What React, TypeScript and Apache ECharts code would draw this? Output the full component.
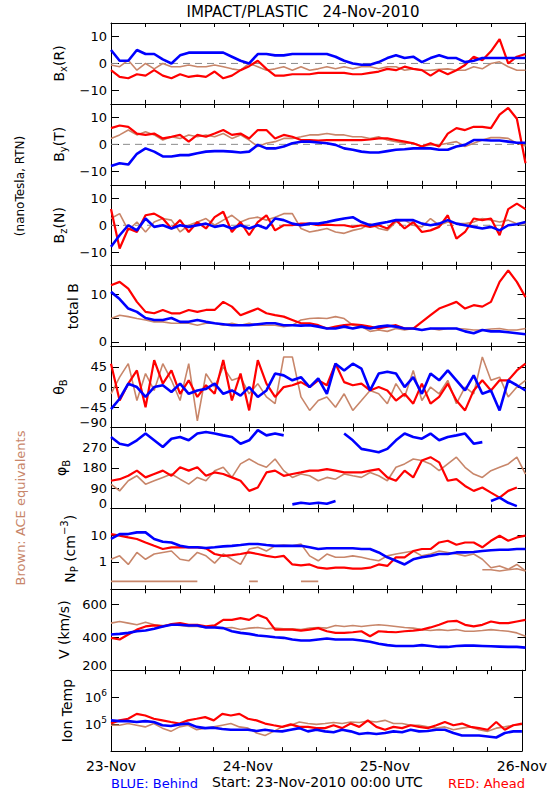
import React, { useEffect, useRef } from 'react';
import * as echarts from 'echarts';

// Time grid: hours after 23-Nov-2010 00:00 UTC (1.5 h samples)
const HOURS = [0, 1.5, 3, 4.5, 6, 7.5, 9, 10.5, 12, 13.5, 15, 16.5, 18, 19.5, 21, 22.5, 24, 25.5, 27, 28.5, 30, 31.5, 33, 34.5, 36, 37.5, 39, 40.5, 42, 43.5, 45, 46.5, 48, 49.5, 51, 52.5, 54, 55.5, 57, 58.5, 60, 61.5, 63, 64.5, 66, 67.5, 69, 70.5, 72];
const DAY_LABELS = ['23-Nov', '24-Nov', '25-Nov', '26-Nov'];

// Bx (R), nT
const BX_BEHIND = [5, 1, 1, 5, 3.5, 3.5, 1.5, 0, 3, 4, 4, 4, 4, 4, 2.5, 1, 0, 3.5, 3.5, 3, 3, 3.5, 3.5, 3.5, 3.5, 3.5, 2.5, 1, 0, -0.5, -0.5, 0.5, 2, 3, 2, 2.5, 0.5, 2, 3, 2, 2, 0.5, 1, 2, 2, 2, 2, 2, 2];
const BX_AHEAD = [-2.5, -5, -5.5, -4, -4.5, -2.5, -4.5, -5.5, -4, -5, -4.5, -5, -3, -5.5, -4.5, -2.5, -1, 1, -2, -4.5, -4.5, -4, -4, -4, -3.5, -3.5, -3.5, -3.5, -4, -4, -3.5, -3, -2, -2.5, -1.2, -2, -2.5, -4.5, -2.5, -4, -2.5, -0.6, 2.5, 1.2, 4.5, 9, 0, 2.5, 3.5];
const BX_ACE = [-0.6, -1.2, 1.2, -2.5, 0, -2, 0, -1.2, -1.2, -0.6, -1.2, -1.2, -0.6, -1.2, -2, -2.5, 0, -1.2, -2.5, -2, -1.2, -2.5, -1.2, -2.5, -2, -1.2, -2, -1.2, -2, -1.2, -1.2, -2, -1.2, -1.2, -2.5, -2, -2.5, -2.5, -2.2, -2, -2.5, -2.5, -1.2, -2, 0, 0.6, -1.2, -2.5, -2.5];

// By (T), nT
const BY_BEHIND = [-8, -7, -7.5, -3.5, -1.5, -2.7, -4.5, -4.5, -4, -4, -3.3, -2.7, -2.5, -2.5, -2.7, -3, -2.7, -0.2, -1.5, -1.5, -0.8, 0.4, 1, 1, 0.7, 0.4, -0.2, -1.5, -2, -2.7, -3, -3, -2.5, -2, -1.8, -1.5, -1.5, -1.5, -2, -2, -0.8, -0.2, 1.6, 1.6, 1.4, 1.4, 1, 0.6, 0.6];
const BY_AHEAD = [6, 7, 6.5, 4, 3.5, 4, 2.2, 2.8, 3.5, 1, 3.5, 2.8, 4, 5.3, 3.5, 4, 2.2, 5.3, 5.3, 2.2, 3.5, 2.8, 1.6, 1.6, 1.4, 1.6, 1.6, 1.6, 1.6, 1.6, 1.8, 2.2, 2.2, 1.6, 1, 0.4, -0.8, 0.4, -0.8, 4, 6, 5.3, 6.5, 6.5, 6, 11, 13.5, 9.5, -7];
const BY_ACE = [2.2, 3.5, 5.3, 3.5, 4.7, 3.5, 1.6, 2.8, 2.2, 3.5, 2.8, 3.5, 2.8, 4, 2.2, 3.5, 1.6, -0.8, 0.4, 1, 2.2, 2.2, 2.8, 3.5, 3.5, 4, 3.5, 3.5, 2.8, 2.8, 2.2, 2.8, 1.6, 1, 0.4, 0.4, -0.8, -0.2, -0.2, 0.4, 1, -0.8, 0.4, 1.6, 2.5, 2.5, 2.2, 0.4, -0.6];

// Bz (N), nT
const BZ_BEHIND = [-8, -3.7, 0, -1.9, 2.5, -0.6, 0, -1.2, 0, -0.6, 0, 0.6, -0.6, 0, -1.2, 0, -1.2, 0, -1.2, 2.5, 1.9, 0.6, 0, 0.6, 0.6, 1.2, 1.9, 2.5, 3, 1.2, 0, 0.6, 1.2, 1.9, 1.9, 1.9, 0.6, 0, 0.6, 1.9, 0.6, 0, -0.6, -1.2, -0.6, -1.9, 0, 0.4, 1.2];
const BZ_AHEAD = [6, -8.6, -1.2, -2.5, 3.7, 4.3, 2.5, -1.2, 1.9, -2.5, 1.2, -1.2, 3, 5, -2.5, 1.2, -3.7, 1.2, 3.7, -1.9, 0, 0, 0.6, 0.6, 0, 0.2, 0, 0, -0.6, 0, -0.6, 0, -1.2, 1.9, -1.2, 1.2, -2.5, -1.9, -0.6, 3.7, -5, -2.5, 2.5, 1.9, 2.5, -3.7, 6, 8, 6];
const BZ_ACE = [2.5, 4.3, -1.9, 1.2, -2.5, 1.2, 2.5, 1.9, -2.5, 0, 1.2, 2.5, 0, 1.9, 3.7, 1.2, 2.5, 3, 1.9, 3, 4.3, 4.3, -1.2, -2.5, -1.9, -1.2, -2.5, -3, -1.9, -1.2, 0.6, -1.2, -1.9, 1.2, 1.9, 0, -0.6, 2.5, 0, 1.2, 0.6, 0.6, 1.2, 2.5, 1.9, 1.2, 1.9, 0.6, 0.6];

// total B, nT
const BT_BEHIND = [10.5, 9, 7, 6.3, 5, 4.6, 4.6, 5, 4.2, 4.2, 4.6, 4.2, 3.9, 3.7, 3.5, 3.5, 3.5, 3.7, 3.9, 3.9, 3.5, 3.5, 3.4, 3.5, 3.2, 2.8, 2.8, 3.2, 2.8, 3.2, 2.8, 3.2, 3.4, 3.2, 2.8, 2.8, 2.5, 2.8, 2.8, 2.8, 2.8, 2.2, 1.8, 2.5, 2.2, 2.2, 2, 1.8, 1.6];
const BT_AHEAD = [11.9, 12.6, 11.2, 8.4, 6.3, 6, 6.7, 6, 6, 6.7, 6.3, 6.7, 6.7, 8.4, 7.4, 5.6, 6.3, 7, 6, 5.6, 5.3, 4.6, 3.9, 3.9, 3.5, 2.8, 3.2, 3.5, 3.7, 3.5, 3.2, 2.8, 3.2, 3.5, 2.8, 2.8, 4.2, 5.6, 7, 7.7, 8.4, 7, 7.7, 7.4, 8.4, 12.6, 15, 12.6, 9.4];
const BT_ACE = [4.9, 5.6, 5.3, 4.9, 4.6, 4.2, 4.2, 3.9, 3.9, 3.9, 3.5, 3.9, 3.9, 3.5, 3.9, 3.5, 3.9, 3.5, 3.5, 3.5, 3.2, 3.5, 4.6, 4.9, 5, 4.9, 5.3, 4.9, 3.5, 3.2, 2.2, 2.5, 2.2, 2.8, 2.5, 2.8, 2.5, 2.8, 2.5, 2.8, 2.8, 2.7, 2.5, 2.5, 2.7, 2.8, 2.5, 2.5, 2.8];

// theta_B, degrees
const TH_BEHIND = [-49, -26, 7.5, 0, -22, 0, 4, -11, 7.5, -15, -7.5, -4, 7.5, -15, -7.5, -19, 0, -22, -7.5, 30, 26, 15, 22, 0, 19, -15, 52, 37, 52, 41, -7.5, 30, 34, 30, 0, 22, -15, 30, 15, 37, 15, -7.5, 26, -15, -7.5, -52, 15, 4, -7.5];
const TH_AHEAD = [52, -30, 7.5, 37, -45, 60, 7.5, 37, -15, 15, -22, 4, -15, 60, -30, 30, -52, 60, 7.5, -22, 0, 4, 11, 0, 15, 4, 52, 11, 4, 7.5, -7.5, 0, -7.5, -30, -15, -37, 7.5, -37, -22, 7.5, -30, -52, -7.5, 15, -7.5, 15, 15, 37, 52];
const TH_ACE = [-15, 22, 52, -30, 30, -7.5, 52, 15, -30, 52, -75, 30, 0, 45, 15, 22, -15, 7.5, -22, -37, 67, 67, -22, -52, -30, -22, -45, -15, -52, -30, -7.5, -15, -37, 7.5, -22, 37, -30, 0, -15, 15, -37, 0, -15, 67, 15, 22, -22, 0, 15];

// phi_B, degrees
const PH_BEHIND = [318, 288, 280, 303, 333, 303, 273, 310, 318, 303, 333, 340, 333, 325, 318, 288, 303, 348, 325, 333, 325, 18, 25, 21, 25, 21, 33, 333, 303, 265, 258, 250, 265, 303, 333, 318, 310, 333, 303, 318, 325, 333, 288, 295, 33, 48, 25, 10, 348];
const PH_AHEAD = [123, 130, 145, 168, 138, 153, 168, 145, 183, 168, 183, 145, 160, 153, 138, 123, 78, 93, 160, 168, 145, 153, 160, 168, 168, 175, 168, 160, 160, 160, 168, 175, 138, 123, 168, 138, 213, 228, 205, 123, 130, 100, 78, 93, 70, 48, 78, 93, 295];
const PH_ACE = [108, 78, 123, 145, 108, 123, 138, 153, 130, 108, 138, 123, 168, 183, 138, 198, 220, 198, 183, 220, 168, 138, 153, 145, 123, 138, 130, 153, 145, 138, 160, 145, 123, 183, 198, 220, 213, 198, 168, 198, 228, 183, 153, 138, 168, 183, 198, 228, 153];

// Proton density, cm^-3
const NP_BEHIND = [7.5, 11.5, 11.5, 13.4, 13.4, 7.5, 5.9, 5.5, 4.1, 3.6, 3.6, 3.4, 3.6, 3.9, 4.1, 4.4, 4.8, 4.8, 4.4, 4.1, 4.1, 4.1, 4.1, 3.6, 3.1, 3.3, 3.3, 3.3, 3.3, 3.1, 3.1, 2.3, 1.5, 1.1, 0.8, 1.26, 1.5, 1.7, 2.0, 2.0, 2.3, 2.3, 2.4, 2.6, 2.8, 2.9, 2.9, 3.1, 3.1];
const NP_AHEAD = [11.5, 10, 8.6, 7.5, 5.5, 4.1, 3.1, 3.6, 3.6, 3.6, 3.6, 3.3, 2.0, 1.7, 1.8, 2.0, 2.3, 2.0, 1.7, 1.5, 1.7, 0.8, 0.74, 0.8, 0.6, 0.55, 0.6, 0.6, 0.55, 0.55, 0.6, 0.8, 0.7, 1.5, 1.5, 2.6, 3.1, 3.1, 5.5, 6.4, 4.5, 5.5, 5.5, 3.6, 6.4, 10, 6.4, 8.6, 10];
const NP_ACE = [1.26, 1.7, 0.8, 2.3, 1.26, 2.0, 2.3, 2.6, 1.26, 1.1, 2.3, 1.7, 0.9, 2.0, 1.26, 0.8, 3.1, 3.6, 2.6, 4.1, 4.4, 4.1, 4.8, 1.7, 1.1, 2.0, 1.5, 1.5, 1.7, 1.5, 1.26, 1.1, 1.7, 2.0, 2.3, 2.6, 1.7, 2.0, 2.6, 2.3, 2.0, 1.7, 2.0, 1.26, 0.6, 0.7, 0.52, 0.8, 0.45];
const NP_ACE_FLOOR = [0.18, 0.18, 0.18, 0.18, 0.18, 0.18, 0.18, 0.18, 0.18, 0.18, 0.18, null, null, null, null, null, 0.18, 0.18, null, null, null, null, 0.18, 0.18, 0.18, null, null, null, null, null, null, null, null, null, null, null, null, null, null, null, null, null, null, 0.5, 0.5, 0.45, 0.5, 0.55, 0.45];

// Bulk speed, km/s
const V_BEHIND = [416, 420, 426, 436, 440, 451, 465, 475, 475, 471, 471, 459, 459, 455, 436, 426, 420, 410, 406, 400, 396, 386, 380, 380, 386, 392, 386, 386, 386, 380, 372, 360, 352, 347, 347, 347, 352, 347, 341, 341, 347, 349, 349, 347, 345, 343, 341, 341, 337];
const V_AHEAD = [396, 386, 416, 446, 465, 471, 465, 479, 485, 475, 475, 465, 471, 505, 505, 515, 505, 535, 515, 446, 446, 446, 440, 446, 455, 436, 426, 426, 430, 436, 406, 436, 432, 430, 436, 440, 446, 459, 475, 495, 499, 475, 465, 475, 495, 485, 485, 495, 505];
const V_ACE = [485, 495, 485, 475, 491, 475, 471, 475, 471, 465, 465, 459, 465, 455, 459, 446, 455, 459, 451, 455, 451, 451, 446, 455, 459, 455, 471, 465, 471, 465, 471, 475, 471, 465, 459, 455, 446, 440, 446, 440, 446, 436, 436, 440, 446, 440, 436, 426, 406];

// Ion temperature, K
const T_BEHIND = [138000, 129000, 129000, 120000, 129000, 120000, 91000, 85000, 98000, 105000, 79000, 71000, 74000, 66000, 62000, 62000, 62000, 56000, 62000, 56000, 54000, 62000, 71000, 54000, 62000, 54000, 50000, 62000, 54000, 43000, 47000, 43000, 47000, 54000, 50000, 62000, 54000, 56000, 62000, 62000, 47000, 38000, 38000, 38000, 35000, 32000, 47000, 54000, 54000];
const T_AHEAD = [105000, 138000, 158000, 240000, 209000, 158000, 138000, 120000, 105000, 138000, 158000, 182000, 138000, 240000, 209000, 240000, 158000, 138000, 105000, 91000, 79000, 98000, 79000, 79000, 71000, 71000, 91000, 71000, 105000, 79000, 138000, 79000, 62000, 79000, 71000, 91000, 79000, 71000, 91000, 120000, 91000, 105000, 79000, 71000, 62000, 120000, 62000, 91000, 105000];
const T_ACE = [91000, 91000, 105000, 91000, 79000, 105000, 71000, 54000, 79000, 91000, 62000, 71000, 79000, 91000, 105000, 79000, 71000, 47000, 38000, 54000, 79000, 91000, 120000, 105000, 98000, 105000, 115000, 105000, 120000, 115000, 129000, 120000, 138000, 105000, 105000, 91000, 91000, 79000, 71000, 79000, 62000, 71000, 79000, 62000, 54000, 71000, 79000, 91000, 98000];

const BLUE = '#0000FF';
const RED = '#FF0000';
const BROWN = '#C8866A';
const FONT = 'DejaVu Sans';

const minus = (v: number) => (v < 0 ? '\u2212' + Math.abs(v) : String(v));

type Panel = {
  name: string;
  nameGap: number;
  min: number;
  max: number;
  log?: boolean;
  ticks: number[];
  labels: number[];
  edge?: number;
  zero?: boolean;
  wrap?: boolean;
  sup?: boolean;
  ace: (number | null)[];
  ahead: number[];
  behind: number[];
  extra?: (number | null)[];
};

const PANELS: Panel[] = [
  { name: '{n|B}{s|x}{n|(R)}', nameGap: 34, min: -15, max: 15, ticks: [-10, 0, 10], labels: [-10, 0, 10], zero: true, ace: BX_ACE, ahead: BX_AHEAD, behind: BX_BEHIND },
  { name: '{n|B}{s|y}{n|(T)}', nameGap: 34, min: -15, max: 15, ticks: [-10, 0, 10], labels: [-10, 0, 10], zero: true, ace: BY_ACE, ahead: BY_AHEAD, behind: BY_BEHIND },
  { name: '{n|B}{s|z}{n|(N)}', nameGap: 34, min: -15, max: 15, ticks: [-10, 0, 10], labels: [-10, 0, 10], zero: true, ace: BZ_ACE, ahead: BZ_AHEAD, behind: BZ_BEHIND },
  { name: '{n|total B}', nameGap: 29, min: -1, max: 16, ticks: [0, 5, 10], labels: [0, 10], ace: BT_ACE, ahead: BT_AHEAD, behind: BT_BEHIND },
  { name: '{n|\u03b8}{s|B}', nameGap: 34, min: -90, max: 90, ticks: [-90, -45, 0, 45], labels: [-90, -45, 0, 45], edge: -90, ace: TH_ACE, ahead: TH_AHEAD, behind: TH_BEHIND },
  { name: '{n|\u03c6}{s|B}', nameGap: 34, min: 0, max: 360, ticks: [0, 90, 180, 270], labels: [0, 90, 180, 270], edge: 0, wrap: true, ace: PH_ACE, ahead: PH_AHEAD, behind: PH_BEHIND },
  { name: '{n|N}{s|P}{n| (cm}{p|\u22123}{n|)}', nameGap: 27, min: 0.09, max: 110, log: true, ticks: [1, 10], labels: [1, 10], ace: NP_ACE, ahead: NP_AHEAD, behind: NP_BEHIND, extra: NP_ACE_FLOOR },
  { name: '{n|V (km/s)}', nameGap: 35, min: 200, max: 690, ticks: [200, 400, 600], labels: [200, 400, 600], edge: 200, ace: V_ACE, ahead: V_AHEAD, behind: V_BEHIND },
  { name: '{n|Ion Temp}', nameGap: 34, min: 1e4, max: 1e7, log: true, ticks: [1e5, 1e6], labels: [1e5, 1e6], sup: true, ace: T_ACE, ahead: T_AHEAD, behind: T_BEHIND },
];

const TOP = 23;
const PANEL_H = 80.9;
const LEFT = 111;
const WIDTH = 414.5;

function build(vals: (number | null)[], wrap?: boolean) {
  const out: any[] = [];
  let prev: number | null = null;
  vals.forEach((v, k) => {
    if (v == null) {
      out.push([HOURS[k], '-']);
      prev = null;
      return;
    }
    if (wrap && prev != null && Math.abs(v - prev) > 180) out.push([HOURS[k], '-']);
    out.push([HOURS[k], v]);
    prev = v;
  });
  return out;
}

const nameRich = {
  n: { fontSize: 14, fontFamily: FONT, color: '#000' },
  s: { fontSize: 10, fontFamily: FONT, color: '#000', verticalAlign: 'bottom', padding: [10, 0, 0, 0] },
  p: { fontSize: 10, fontFamily: FONT, color: '#000', verticalAlign: 'top', padding: [0, 0, 10, 0] },
};

const labelRich = {
  e: { fontSize: 13, fontFamily: FONT, color: '#000', padding: [0, 0, 10, 0] },
  b: { fontSize: 13, fontFamily: FONT, color: '#000' },
  p: { fontSize: 9, fontFamily: FONT, color: '#000', verticalAlign: 'top', padding: [0, 0, 8, 0] },
};

function buildOption() {
  const grid: any[] = [];
  const xAxis: any[] = [];
  const yAxis: any[] = [];
  const series: any[] = [];
  const n = PANELS.length;

  PANELS.forEach((p, i) => {
    grid.push({ left: LEFT, top: TOP + i * PANEL_H, width: WIDTH, height: PANEL_H });
    const isLast = i === n - 1;
    const xBase = {
      type: 'value',
      gridIndex: i,
      min: 0,
      max: 72,
      interval: 6,
      splitLine: { show: false },
      axisLine: { show: true, onZero: false, lineStyle: { color: '#000', width: 1 } },
      axisTick: { show: true, inside: true, length: 4, lineStyle: { color: '#000', width: 1 } },
    };
    xAxis.push({
      ...xBase,
      position: 'bottom',
      axisLabel: {
        show: isLast,
        margin: 8,
        fontSize: 14,
        fontFamily: FONT,
        color: '#000',
        formatter: (v: number) => (v % 24 === 0 ? DAY_LABELS[v / 24] : ''),
      },
    });
    xAxis.push({ ...xBase, position: 'top', axisLabel: { show: false } });

    const fmt = (v: number) => {
      if (p.sup) return '{b|10}{p|' + Math.round(Math.log10(v)) + '}';
      if (p.edge !== undefined && v === p.edge) return '{e|' + minus(v) + '}';
      return '{b|' + minus(v) + '}';
    };
    const yBase = {
      type: p.log ? 'log' : 'value',
      logBase: 10,
      gridIndex: i,
      min: p.min,
      max: p.max,
      splitLine: { show: false },
      axisLine: { show: true, onZero: false, lineStyle: { color: '#000', width: 1 } },
      axisTick: { show: true, inside: true, length: 8, customValues: p.ticks, lineStyle: { color: '#000', width: 1 } },
    };
    yAxis.push({
      ...yBase,
      position: 'left',
      name: p.name,
      nameLocation: 'middle',
      nameRotate: 90,
      nameGap: p.nameGap,
      nameTextStyle: { fontSize: 14, fontFamily: FONT, color: '#000', rich: nameRich },
      axisLabel: {
        show: true,
        customValues: p.labels,
        margin: 4,
        fontSize: 13,
        fontFamily: FONT,
        color: '#000',
        formatter: fmt,
        rich: labelRich,
      },
    });
    yAxis.push({ ...yBase, position: 'right', axisLabel: { show: false } });

    const xi = 2 * i;
    const yi = 2 * i;
    if (p.zero) {
      series.push({
        type: 'line',
        xAxisIndex: xi,
        yAxisIndex: yi,
        data: [[0, 0], [72, 0]],
        symbol: 'none',
        silent: true,
        lineStyle: { color: '#8c8c8c', width: 1, type: [7, 5] },
        z: 1,
      });
    }
    const common = { type: 'line', xAxisIndex: xi, yAxisIndex: yi, symbol: 'none', showSymbol: false, silent: true, connectNulls: false };
    series.push({ ...common, name: 'ACE', data: build(p.ace, p.wrap), lineStyle: { color: BROWN, width: 1.6 }, z: 2 });
    if (p.extra) {
      series.push({ ...common, name: 'ACE floor', data: build(p.extra), lineStyle: { color: BROWN, width: 1.6 }, z: 2 });
    }
    series.push({ ...common, name: 'Ahead', data: build(p.ahead, p.wrap), lineStyle: { color: RED, width: 2.2 }, z: 3 });
    series.push({ ...common, name: 'Behind', data: build(p.behind, p.wrap), lineStyle: { color: BLUE, width: 2.6 }, z: 4 });
  });

  const graphic = [
    { type: 'text', x: 303, y: 12, style: { text: 'IMPACT/PLASTIC   24-Nov-2010', fontSize: 15, fontFamily: FONT, fill: '#000', textAlign: 'center', textVerticalAlign: 'middle' } },
    { type: 'text', x: 20, y: 186, rotation: Math.PI / 2, style: { text: '(nanoTesla, RTN)', fontSize: 12, fontFamily: FONT, fill: '#000', textAlign: 'center', textVerticalAlign: 'middle' } },
    { type: 'text', x: 20, y: 508, rotation: Math.PI / 2, style: { text: 'Brown: ACE equivalents', fontSize: 13, fontFamily: FONT, fill: BROWN, textAlign: 'center', textVerticalAlign: 'middle' } },
    { type: 'text', x: 111, y: 783, style: { text: 'BLUE: Behind', fontSize: 13, fontFamily: FONT, fill: BLUE, textAlign: 'left', textVerticalAlign: 'middle' } },
    { type: 'text', x: 212, y: 782, style: { text: 'Start: 23-Nov-2010 00:00 UTC', fontSize: 14, fontFamily: FONT, fill: '#000', textAlign: 'left', textVerticalAlign: 'middle' } },
    { type: 'text', x: 525, y: 783, style: { text: 'RED: Ahead', fontSize: 13, fontFamily: FONT, fill: RED, textAlign: 'right', textVerticalAlign: 'middle' } },
  ];

  return {
    animation: false,
    backgroundColor: '#fff',
    grid,
    xAxis,
    yAxis,
    series,
    graphic,
  };
}

export default function App() {
  const ref = useRef<HTMLDivElement>(null);
  useEffect(() => {
    if (!ref.current) return;
    const chart = echarts.init(ref.current, null, { renderer: 'svg' });
    chart.setOption(buildOption() as any);
    return () => chart.dispose();
  }, []);
  return (
    <div
      ref={ref}
      style={{ position: 'absolute', left: 0, top: 0, width: 550, height: 800, background: '#fff' }}
    />
  );
}
